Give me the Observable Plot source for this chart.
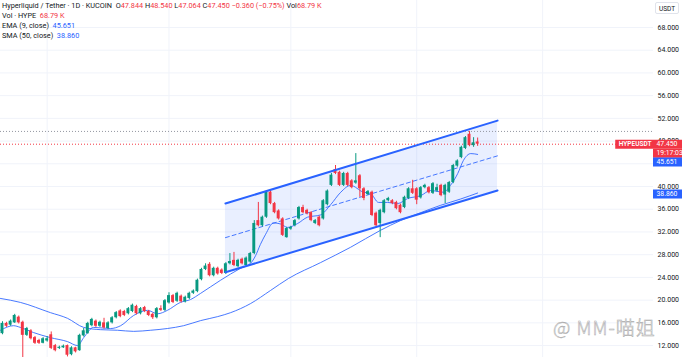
<!DOCTYPE html>
<html><head><meta charset="utf-8">
<script src="https://cdn.jsdelivr.net/npm/d3@7"></script>
<script src="https://cdn.jsdelivr.net/npm/@observablehq/plot@0.6"></script>
<style>
html,body{margin:0;padding:0;background:#fff;}
#wrap{position:relative;width:682px;height:357px;overflow:hidden;font-family:Roboto,"Noto Sans",sans-serif;}
#legend{position:absolute;left:2px;top:1px;font-size:7.3px;line-height:10px;color:#131722;white-space:nowrap;}
#legend .r{color:#f23645}
#legend .b{color:#2962ff}
#unit{position:absolute;left:655px;top:2px;width:24px;height:12px;border:1px solid #e0e3eb;border-radius:2px;font-size:6.5px;line-height:12px;text-align:center;color:#131722;background:#fff;box-sizing:border-box;}
#wm{position:absolute;left:553px;top:313px;font-size:19px;font-family:"Noto Sans CJK SC",sans-serif;font-weight:300;color:rgba(255,255,255,0.85);-webkit-text-stroke:0.5px #a8a8a8;letter-spacing:1px;white-space:nowrap;}
</style></head>
<body>
<div id="wrap"><div id="chart"></div><div id="legend"></div><div id="unit">USDT</div><div id="wm">@ MM-喵姐</div></div>
<script>
// ---- data ----
const open = [14.1,15.9,15.6,16.0,17.0,16.1,13.8,14.6,13.4,12.9,12.4,12.8,13.9,12.0,11.5,11.6,12.0,10.4,11.6,11.1,13.7,14.1,15.5,16.3,15.4,16.0,15.0,16.0,16.9,
18.1,18.0,17.6,18.0,18.9,17.6,18.7,18.0,17.5,16.9,18.5,18.2,19.5,20.8,19.8,20.7,19.7,20.3,21.2,
21.5,23.6,25.4,26.3,24.3,25.6,25.3,24.7,26.4,27.0,25.9,27.2,26.1,26.7,
28.2,34.0,33.1,34.6,39.0,37.0,35.7,34.3,31.0,32.5,33.1,34.3,36.3,35.8,35.4,33.5,34.6,34.3,36.8,
40.2,43.0,42.5,40.2,42.3,41.0,40.6,41.9,39.6,38.6,39.0,35.3,33.5,35.4,37.5,37.5,37.2,36.7,36.3,37.9,39.6,39.6,
38.0,39.8,39.8,38.8,39.2,40.2,38.5,39.0,40.7,43.6,45.1,46.7,49.2,47.2,47.844];
const close = [15.9,15.4,16.3,17.3,16.0,13.8,15.0,13.2,12.4,12.4,13.2,13.2,11.5,11.1,11.7,11.9,10.3,11.6,10.9,13.8,14.6,15.9,16.6,15.4,16.1,15.1,16.0,16.9,17.8,
17.1,17.3,18.5,19.1,17.6,18.5,18.0,17.3,16.9,18.5,18.2,19.9,20.8,19.6,21.2,19.7,20.5,21.2,21.6,
23.5,25.4,26.0,24.3,25.6,24.6,24.7,26.4,26.8,26.1,27.0,26.4,27.4,28.2,
33.5,33.1,34.6,39.0,37.0,35.4,34.3,31.4,32.6,32.8,34.0,36.3,35.4,35.2,34.0,34.0,33.1,37.5,39.2,
42.0,42.3,40.2,42.3,40.2,39.8,41.0,39.6,37.9,39.1,34.9,33.1,35.8,37.5,37.9,37.0,36.1,35.4,38.1,39.6,38.8,37.6,
39.8,40.2,38.9,40.5,39.8,38.4,40.2,40.7,43.7,44.5,46.9,48.6,47.2,47.7,47.45];
const high = [16.2,16.1,16.5,17.5,17.2,16.3,15.2,14.8,13.6,13.1,13.4,13.6,14.4,12.2,11.9,12.1,12.1,11.8,11.7,14.0,15.0,16.1,16.8,16.5,16.3,16.8,16.2,17.1,18.0,
18.3,18.2,18.7,19.3,19.1,18.7,18.9,18.2,17.7,18.7,19.0,20.1,21.3,21.0,21.4,20.9,20.7,21.4,21.8,
23.7,25.6,26.4,26.6,25.8,25.8,25.5,26.6,28.2,28.4,27.2,27.4,27.6,28.4,
34.0,37.2,34.8,39.3,39.3,37.2,35.9,34.5,32.8,33.0,34.2,36.5,36.7,36.0,35.6,34.2,34.8,37.7,39.4,
42.3,43.7,42.7,42.5,42.5,41.2,45.8,42.1,39.8,39.3,39.2,35.5,36.0,37.7,38.1,37.7,37.4,36.9,38.3,39.8,41.1,39.8,
40.0,40.4,40.0,40.7,40.4,40.4,40.4,40.9,43.9,44.7,47.1,48.8,49.7,48.6,48.54];
const low = [13.9,15.2,15.4,15.9,15.8,9.5,13.6,13.0,12.2,12.2,12.3,12.6,11.3,10.9,11.3,11.5,10.0,10.2,10.7,11.0,13.5,14.0,15.3,15.2,15.2,14.9,14.8,15.8,16.7,
16.9,17.1,17.4,17.8,17.4,17.4,17.8,17.1,16.6,16.7,18.0,18.0,19.3,19.4,19.6,19.5,19.5,20.1,21.0,
21.3,23.4,25.2,24.1,24.1,24.4,24.5,24.5,26.2,25.9,25.7,26.2,25.9,26.5,
28.0,32.9,32.9,34.4,36.8,35.2,34.1,31.2,30.9,32.3,32.9,34.1,35.2,35.0,33.8,33.3,32.9,34.1,36.6,
40.0,42.1,40.0,40.0,40.0,39.6,40.4,38.1,37.5,38.4,34.7,32.9,31.0,35.2,37.3,36.8,35.9,35.2,36.1,37.7,38.6,36.8,
37.8,39.6,38.7,38.6,39.0,38.2,37.0,38.8,40.5,43.4,44.9,46.5,47.0,46.9,47.064];

// EMA (9) and SMA (50) as drawn (candle index, value)
const emaI = [-0.5,2.7,4.4,7.6,11.8,16,18.5,20,22.4,26.6,29.1,32.3,35.7,38.2,40.6,43.8,46.3,48.8,53.7,58.6,61.1,62.3,63.5,64.8,66.7,68.5,70.2,72.7,75.1,78.3,80.8,83.3,85.7,88.9,90.6,92.6,94.8,97.3,99.8,103,105.4,108.6,110.3,112.1,113.5,115.3,117];
const emaV = [14.7,15.5,15.2,14.3,13.4,12.7,12.0,13.4,15.2,15.0,15.5,17.3,18.2,17.6,18.2,19.6,20.1,21.2,23.5,25.6,26.5,27.8,29.8,31.6,33.6,33.4,32.8,33.5,34.6,35.0,36.8,39.0,40.2,39.0,38.8,37.2,37.2,37.0,37.9,38.4,39.3,39.0,40.2,42.3,44.6,45.8,45.651];
const smaI = [-0.5,4.4,11.8,16,20,24.1,28.3,32.3,36.5,40.6,44.6,48.8,53,56.2,61.1,66,70.4,78.3,85.7,93.1,98,103,107.9,112.8,117];
const smaV = [20.3,19.6,17.8,16.8,15.2,14.8,14.7,14.5,14.7,15.0,15.5,16.4,17.1,17.8,19.4,21.7,23.8,26.6,29.3,32.3,34.0,35.4,36.7,37.8,38.86];

// parallel channel (candle index, prices)
const chanI = [54.9, 121.9];
const chanUpper = [37.0, 51.6];
const chanMid = [31.0, 45.4];
const chanLower = [24.9, 39.3];

// scale labels (44.000 is fully covered by the EMA price label in the reference)
const yTicks = [12,16,20,24,28,32,36,40,44,48,52,56,60,64,68];
const yTickLabels = [12,16,20,24,28,32,36,40,48,52,56,60,64,68];
const xGridI = [11, 41, 71, 102, 133];
const rangeHigh = 49.7;
const volText = "68.79 K";
const changeText = "−0.360 (−0.75%)";
const countdown = "19:17:03";
const symbol = "HYPEUSDT";

// ---- build ----
const N = open.length;
const candles = d3.range(N).map(i => ({i, o: open[i], h: high[i], l: low[i], c: close[i]}));
const last = candles[N - 1];
const emaLast = emaV[emaV.length - 1], smaLast = smaV[smaV.length - 1];
const ema = emaI.map((i, k) => ({i, v: emaV[k]}));
const sma = smaI.map((i, k) => ({i, v: smaV[k]}));
const chan = chanI.map((i, k) => ({i, u: chanUpper[k], m: chanMid[k], l: chanLower[k]}));

const UP = "#089981", DN = "#f23645", BLUE = "#2962ff";
const col = d => d.c >= d.o ? UP : DN;
const xDomain = [-0.49, 160.3];
const xR = xDomain[1];
const fmt = d => d.toFixed(3);

const chart = Plot.plot({
  width: 682, height: 357,
  marginLeft: 0, marginRight: 29, marginTop: 0, marginBottom: 0,
  x: {domain: xDomain, axis: null},
  y: {domain: [9.9, 72.75], axis: null},
  style: {fontFamily: "Roboto, 'Noto Sans', sans-serif", fontSize: "7px", background: "white", overflow: "hidden"},
  marks: [
    Plot.gridY(yTicks, {stroke: "#f0f3fa", strokeOpacity: 1}),
    Plot.gridX(xGridI, {stroke: "#f0f3fa", strokeOpacity: 1}),
    Plot.areaY(chan, {x: "i", y1: "l", y2: "u", fill: "#2962ff", fillOpacity: 0.1}),
    Plot.line(chan, {x: "i", y: "m", stroke: BLUE, strokeWidth: 1, strokeDasharray: "4,3", strokeOpacity: 0.85}),
    Plot.ruleY([rangeHigh], {stroke: "#9598a1", strokeDasharray: "1,2", strokeWidth: 1}),
    Plot.ruleY([last.c], {stroke: DN, strokeDasharray: "1,2", strokeWidth: 1}),
    Plot.line(sma, {x: "i", y: "v", stroke: BLUE, strokeWidth: 1, curve: "monotone-x", strokeOpacity: 0.85}),
    Plot.line(ema, {x: "i", y: "v", stroke: BLUE, strokeWidth: 1, curve: "monotone-x", strokeOpacity: 0.85}),
    Plot.ruleX(candles, {x: "i", y1: "l", y2: "h", stroke: col, strokeWidth: 1}),
    Plot.rect(candles, {x1: d => d.i - 0.36, x2: d => d.i + 0.36, y1: "o", y2: "c", fill: col}),
    Plot.line(chan, {x: "i", y: "u", stroke: BLUE, strokeWidth: 2}),
    Plot.line(chan, {x: "i", y: "l", stroke: BLUE, strokeWidth: 2}),
    Plot.axisY(yTickLabels, {anchor: "right", tickSize: 0, tickPadding: 4, tickFormat: fmt, fill: "#131722", fontSize: 7}),
    // price labels on the scale
    Plot.ruleY([last.c], {x1: () => xR - 9.3, x2: () => xR, stroke: DN, strokeWidth: 9}),
    Plot.text([last.c], {y: d => d, frameAnchor: "right", dx: -2, textAnchor: "end", text: () => symbol, fill: "white", fontSize: 6.5, fontWeight: 600}),
    Plot.ruleY([last.c], {x1: () => xR, x2: () => xR + 8, stroke: DN, strokeWidth: 9}),
    Plot.ruleY([last.c], {x1: () => xR, x2: () => xR + 8, stroke: DN, strokeWidth: 9, dy: 9}),
    Plot.text([last.c], {y: d => d, frameAnchor: "right", dx: 3, textAnchor: "start", text: fmt, fill: "white", fontSize: 6.8}),
    Plot.text([last.c], {y: d => d, frameAnchor: "right", dx: 3, dy: 9, textAnchor: "start", text: () => countdown, fill: "white", fontSize: 6.8}),
    Plot.ruleY([emaLast], {x1: () => xR, x2: () => xR + 8, stroke: BLUE, strokeWidth: 9, dy: 7.5}),
    Plot.text([emaLast], {y: d => d, frameAnchor: "right", dx: 3, dy: 7.5, textAnchor: "start", text: fmt, fill: "white", fontSize: 6.8}),
    Plot.ruleY([smaLast], {x1: () => xR, x2: () => xR + 8, stroke: BLUE, strokeWidth: 9, dy: 1}),
    Plot.text([smaLast], {y: d => d, frameAnchor: "right", dx: 3, dy: 1, textAnchor: "start", text: fmt, fill: "white", fontSize: 6.8})
  ]
});
document.getElementById("chart").append(chart);

const L = document.getElementById("legend");
L.innerHTML =
  `<div>Hyperliquid / Tether · 1D · KUCOIN&nbsp; O<span class="r">${fmt(last.o)}</span> H<span class="r">${fmt(last.h)}</span> L<span class="r">${fmt(last.l)}</span> C<span class="r">${fmt(last.c)}</span> <span class="r">${changeText}</span> Vol<span class="r">${volText}</span></div>` +
  `<div>Vol · HYPE&nbsp; <span class="r">${volText}</span></div>` +
  `<div>EMA (9, close)&nbsp; <span class="b">${fmt(emaLast)}</span></div>` +
  `<div>SMA (50, close)&nbsp; <span class="b">${fmt(smaLast)}</span></div>`;
</script>
</body></html>
